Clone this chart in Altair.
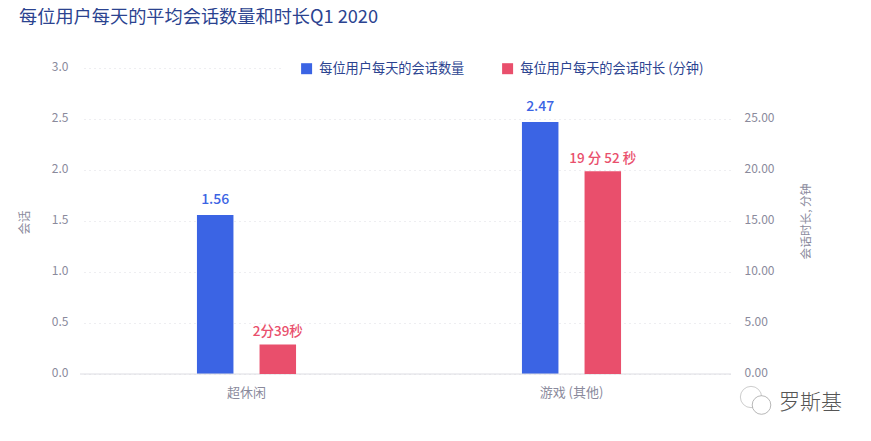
import altair as alt
import pandas as pd

categories = ["超休闲", "游戏 (其他)"]
sessions = [1.56, 2.47]
session_labels = ["1.56", "2.47"]
minutes = [2.9, 19.87]
minute_labels = ["2分39秒", "19 分 52 秒"]
series = ["每位用户每天的会话数量", "每位用户每天的会话时长 (分钟)"]
colors = ["#3b64e4", "#e94f6c"]
left_ticks = [0.0, 0.5, 1.0, 1.5, 2.0, 2.5, 3.0]
right_ticks = [0, 5, 10, 15, 20, 25]

FONT = "Noto Sans CJK SC"
GREY = "#8a8a9c"
NAVY = "#2b4390"
GRID = "#dcdce2"

df = pd.DataFrame({
    "cat": categories,
    "sessions": sessions,
    "slabel": session_labels,
    "minutes": minutes,
    "mlabel": minute_labels,
    "s0": [series[0]] * 2,
    "s1": [series[1]] * 2,
})

x = alt.X(
    "cat:N", sort=None, title=None,
    scale=alt.Scale(range=[4, 654], paddingInner=0, paddingOuter=0),
    axis=alt.Axis(domain=False, ticks=False, labelAngle=0, labelPadding=12,
                  labelFontSize=13, labelColor=GREY, labelFont=FONT, grid=False),
)

y_left = alt.Y(
    "sessions:Q", title="会话",
    scale=alt.Scale(domain=[0, 3]),
    axis=alt.Axis(values=left_ticks, format=".1f", domain=False, ticks=False,
                  labelPadding=12, labelFontSize=12, labelOffset=-2, labelColor=GREY, labelFont=FONT,
                  grid=True, gridColor=GRID, gridDash=[1, 4], gridWidth=1,
                  titleFontSize=12, titleColor=GREY, titleFont=FONT, titleFontWeight="normal",
                  titleX=-49, titleY=154),
)
y_right = alt.Y(
    "minutes:Q", title="会话时长, 分钟",
    scale=alt.Scale(domain=[0, 30]),
    axis=alt.Axis(orient="right", values=right_ticks, format=".2f", domain=False, ticks=False,
                  labelPadding=13, labelFontSize=12, labelOffset=-2, labelColor=GREY, labelFont=FONT,
                  grid=False,
                  titleFontSize=11.7, titleColor=GREY, titleFont=FONT, titleFontWeight="normal",
                  titleAngle=270, titleX=80, titleY=153),
)

color_scale = alt.Scale(domain=series, range=colors)
legend = alt.Legend(
    orient="none", legendX=220, legendY=-6, direction="horizontal", title=None,
    symbolType="square", symbolSize=121, symbolStrokeWidth=0, labelFontSize=13.2,
    labelColor=NAVY, labelFont=FONT, labelOffset=6, columnPadding=36, labelLimit=400,
)

base = alt.Chart(df)

left_bar = base.mark_bar(width=36.5, xOffset=-31.3).encode(
    x=x, y=y_left,
    color=alt.Color("s0:N", scale=color_scale, legend=legend),
)
left_text = base.mark_text(xOffset=-31.3, baseline="bottom", dy=-8, fontSize=14,
                           fontWeight=500, font=FONT, color=colors[0]).encode(
    x=x, y=y_left, text="slabel:N",
)
grid_gap = alt.Chart(pd.DataFrame({"sessions": [3.0]})).mark_rule(color="white", strokeWidth=3).encode(
    x=alt.value(203), x2=alt.value(655), y=y_left,
)
baseline = alt.Chart(pd.DataFrame({"sessions": [0.0]})).mark_rule(color="#dcdce2", strokeWidth=1).encode(
    y=y_left,
)
left = alt.layer(grid_gap, left_bar, baseline, left_text)

right_bar = base.mark_bar(width=36.5, xOffset=31.3).encode(
    x=x, y=y_right,
    color=alt.Color("s1:N", scale=color_scale, legend=legend),
)
right_text = base.mark_text(xOffset=31.3, baseline="bottom", dy=-5.5, fontSize=13.5,
                            fontWeight=500, font=FONT, color=colors[1]).encode(
    x=x, y=y_right, text="mlabel:N",
)
right = alt.layer(right_bar, right_text)

watermark = alt.Chart(pd.DataFrame({"t": ["罗斯基"]})).mark_text(
    fontSize=21, font=FONT, fontWeight=300, color="#555555", align="left", baseline="middle",
).encode(x=alt.value(699), y=alt.value(335), text="t:N")

bubble_a = alt.Chart(pd.DataFrame({"s": [1]})).mark_point(
    shape="circle", size=452, stroke="#9a9a9a", strokeWidth=0.7, filled=False).encode(
    x=alt.value(671), y=alt.value(329))
bubble_b = alt.Chart(pd.DataFrame({"s": [1]})).mark_point(
    shape="circle", size=346, stroke="#9a9a9a", strokeWidth=0.7, filled=True, fill="white", opacity=1).encode(
    x=alt.value(681.5), y=alt.value(337))

chart = alt.layer(left, right, watermark, bubble_a, bubble_b).resolve_scale(y="independent").properties(
    width=651, height=306,
    autosize="none",
    padding={"left": 72, "top": 60, "right": 132, "bottom": 59},
    background="white",
    title=alt.TitleParams(
        "每位用户每天的平均会话数量和时长Q1 2020", anchor="start", fontSize=18.2,
        fontWeight="normal", font=FONT, color=NAVY, dx=1, dy=-33, offset=0,
    ),
).configure_view(stroke=None)

chart.save("out.html", embed_options={"renderer": "svg", "actions": False})
